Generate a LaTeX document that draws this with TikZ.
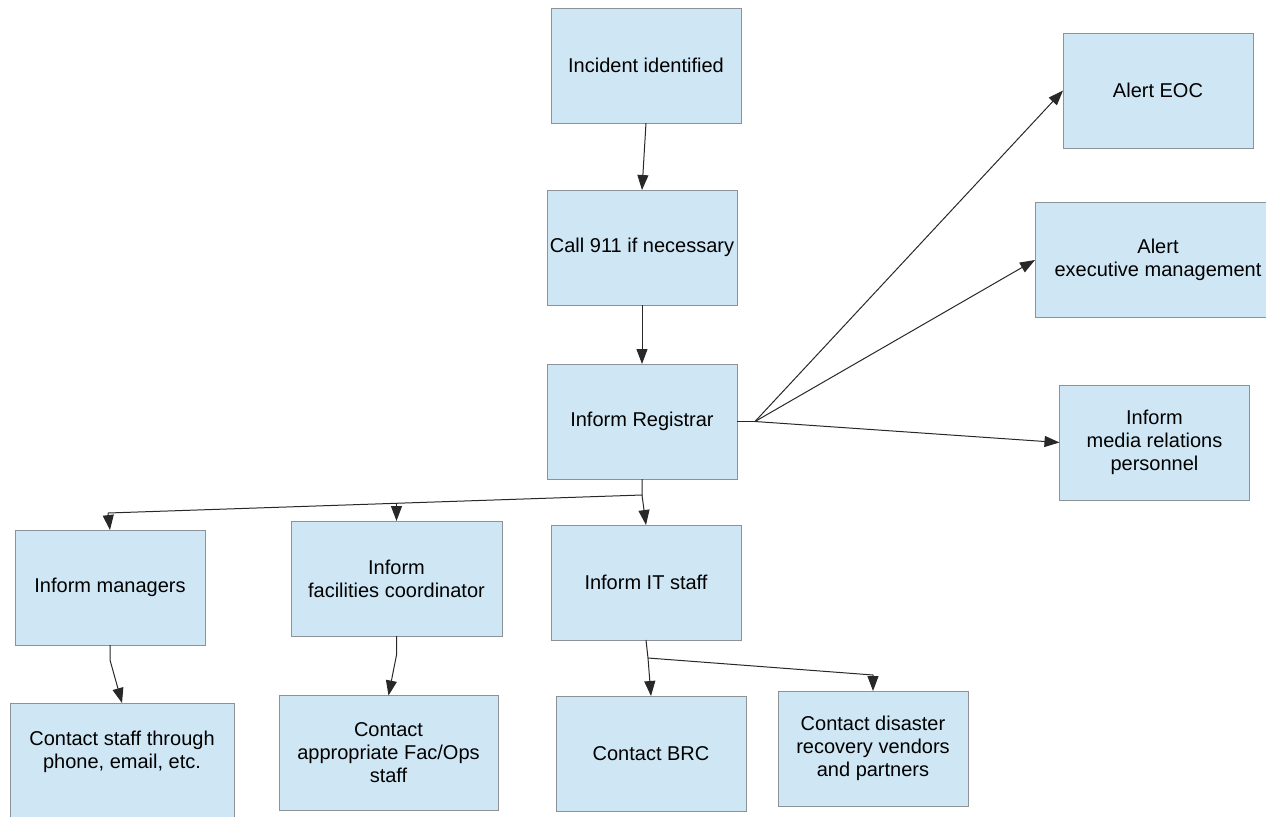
\documentclass[tikz,border=0pt]{standalone}
\usepackage{fontspec}
\setmainfont{Liberation Sans}
\usetikzlibrary{arrows.meta, positioning, calc}
\definecolor{boxfill}{RGB}{207,231,245}
\definecolor{boxedge}{RGB}{140,146,152}
\definecolor{wireline}{RGB}{40,40,40}

\tikzset{
    stepbox/.style={draw=boxedge, fill=boxfill, line width=0.5pt, inner sep=0pt, outer sep=0pt,
        minimum width=95pt, minimum height=57.5pt, align=center,
        font=\fontsize{10}{11.5}\selectfont},
    flowarrow/.style={draw=wireline, line width=0.5pt, -{Triangle[length=7.5pt,width=5.5pt]}},
    flowline/.style={draw=wireline, line width=0.5pt}
}

\begin{document}
\begin{tikzpicture}[x=0.5pt, y=-0.5pt]
    \useasboundingbox (0,0) rectangle (1266,816);

    % main column
    \node[stepbox] (incident) at (646,65.5) {Incident identified};
    \node[stepbox] (call) at (642,247.5) {Call 911 if necessary};
    \node[stepbox] (registrar) at (642,421.5) {Inform Registrar};

    % right side alerts
    \node[stepbox] (eoc) at (1158,90.5) {Alert EOC};
    \node[stepbox, minimum width=123pt] (exec) at (1158,260) {Alert\\executive management};
    \node[stepbox] (media) at (1154.5,442.5) {Inform\\media relations\\personnel};

    % second row
    \node[stepbox] (managers) at (110,587.5) {Inform managers};
    \node[stepbox, minimum width=105.5pt] (facilities) at (396.5,578.5) {Inform\\facilities coordinator};
    \node[stepbox] (itstaff) at (646,582.5) {Inform IT staff};

    % bottom row
    \node[stepbox, minimum width=112pt, text depth=11pt] (staff) at (122,760.5) {Contact staff through\\phone, email, etc.};
    \node[stepbox, minimum width=109.5pt] (facops) at (388.5,753) {Contact\\appropriate Fac/Ops\\staff};
    \node[stepbox] (brc) at (651,753.5) {Contact BRC};
    \node[stepbox] (vendors) at (873,748.5) {Contact disaster\\recovery vendors\\and partners};

    % branch points
    \coordinate (regR) at (755,421.5);
    \coordinate (regB) at (642,495);
    \coordinate (mgrTurn) at (108,513);
    \coordinate (facTurn) at (396.5,503.3);
    \coordinate (mgrB) at (110,660);
    \coordinate (facB) at (396.5,655);
    \coordinate (itB) at (648,658);
    \coordinate (vendTurn) at (873,675);

    % connectors
    \draw[flowarrow] (incident.south) -- (call.north);
    \draw[flowarrow] (call.south) -- (registrar.north);

    \draw[flowline] (registrar.east) -- (regR);
    \draw[flowarrow] (regR) -- (eoc.west);
    \draw[flowarrow] (regR) -- (exec.west);
    \draw[flowarrow] (regR) -- (media.west);

    \draw[flowline] (registrar.south) -- (regB) -- (mgrTurn);
    \draw[flowarrow] (mgrTurn) -- (managers.north);
    \draw[flowarrow] (facTurn) -- (facilities.north);
    \draw[flowarrow] (regB) -- (itstaff.north);

    \draw[flowarrow] (managers.south) -- (mgrB) -- (staff.north);
    \draw[flowarrow] (facilities.south) -- (facB) -- (facops.north);
    \draw[flowline] (itstaff.south) -- (itB);
    \draw[flowarrow] (itB) -- (brc.north);
    \draw[flowarrow] (itB) -- (vendTurn) -- (vendors.north);
\end{tikzpicture}
\end{document}
